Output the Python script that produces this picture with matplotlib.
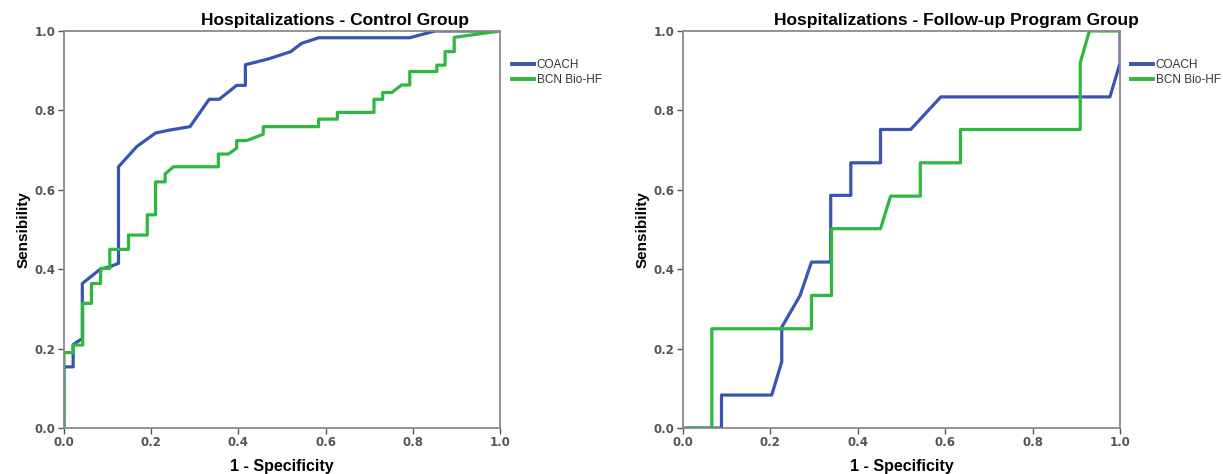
import matplotlib
matplotlib.use('Agg')
import matplotlib.pyplot as plt
from matplotlib.ticker import MultipleLocator

# ---------------- data ----------------
# control group
coachCtrlX = [0.0, 0.0, 0.021, 0.021, 0.037, 0.042, 0.042, 0.083, 0.105, 0.125, 0.125,
              0.167, 0.210, 0.240, 0.289, 0.333, 0.356, 0.396, 0.416, 0.416, 0.470,
              0.520, 0.545, 0.584, 0.793, 0.851, 1.0]
coachCtrlY = [0.0, 0.154, 0.154, 0.210, 0.222, 0.222, 0.364, 0.400, 0.406, 0.415, 0.658,
              0.709, 0.743, 0.750, 0.759, 0.828, 0.828, 0.863, 0.863, 0.915, 0.930,
              0.948, 0.969, 0.983, 0.983, 1.0, 1.0]

bcnCtrlX = [0.0, 0.0, 0.021, 0.021, 0.043, 0.043, 0.063, 0.063, 0.084, 0.084, 0.105,
            0.105, 0.148, 0.148, 0.191, 0.191, 0.210, 0.210, 0.232, 0.232, 0.251,
            0.354, 0.354, 0.377, 0.396, 0.396, 0.419, 0.457, 0.457, 0.584, 0.584,
            0.627, 0.627, 0.711, 0.711, 0.731, 0.731, 0.752, 0.774, 0.793, 0.793,
            0.855, 0.855, 0.874, 0.874, 0.895, 0.895, 1.0]
bcnCtrlY = [0.0, 0.190, 0.190, 0.209, 0.209, 0.314, 0.314, 0.364, 0.364, 0.402, 0.402,
            0.450, 0.450, 0.486, 0.486, 0.537, 0.537, 0.620, 0.620, 0.640, 0.658,
            0.658, 0.690, 0.690, 0.705, 0.724, 0.724, 0.740, 0.759, 0.759, 0.778,
            0.778, 0.795, 0.795, 0.828, 0.828, 0.845, 0.845, 0.864, 0.864, 0.898,
            0.898, 0.914, 0.914, 0.948, 0.948, 0.984, 1.0]

# follow-up program group
coachFupX = [0.0, 0.088, 0.088, 0.203, 0.226, 0.226, 0.268, 0.294, 0.338, 0.338, 0.384,
             0.384, 0.452, 0.452, 0.521, 0.590, 0.977, 1.0, 1.0]
coachFupY = [0.0, 0.0, 0.083, 0.083, 0.167, 0.254, 0.334, 0.418, 0.418, 0.586, 0.586,
             0.668, 0.668, 0.752, 0.752, 0.834, 0.834, 0.919, 1.0]

bcnFupX = [0.0, 0.066, 0.066, 0.294, 0.294, 0.340, 0.340, 0.452, 0.475, 0.543, 0.543,
           0.635, 0.635, 0.909, 0.909, 0.930, 1.0]
bcnFupY = [0.0, 0.0, 0.250, 0.250, 0.334, 0.334, 0.502, 0.502, 0.584, 0.584, 0.668,
           0.668, 0.752, 0.752, 0.920, 1.0, 1.0]

seriesNames = ['COACH', 'BCN Bio-HF']
titles = ['Hospitalizations - Control Group', 'Hospitalizations - Follow-up Program Group']

blue = '#3a55b1'
green = '#2fb83e'

plt.rcParams['font.family'] = ['Liberation Sans', 'DejaVu Sans']

fig = plt.figure(figsize=(12.23, 4.74), dpi=100)

ax1 = fig.add_axes([64/1223., 46/474., 436/1223., 397/474.])
ax2 = fig.add_axes([683/1223., 46/474., 437/1223., 397/474.])

ax1.plot(coachCtrlX, coachCtrlY, color=blue, lw=2.3, label=seriesNames[0])
ax1.plot(bcnCtrlX, bcnCtrlY, color=green, lw=2.3, label=seriesNames[1])
ax2.plot(coachFupX, coachFupY, color=blue, lw=2.3, label=seriesNames[0])
ax2.plot(bcnFupX, bcnFupY, color=green, lw=2.3, label=seriesNames[1])

legPos = [(512/1223., 1 - 59/474.), (1131/1223., 1 - 59/474.)]
titlePos = [335/1223., 956/1223.]

for i, ax in enumerate([ax1, ax2]):
    ax.set_xlim(0, 1)
    ax.set_ylim(0, 1)
    ax.xaxis.set_major_locator(MultipleLocator(0.2))
    ax.yaxis.set_major_locator(MultipleLocator(0.2))
    ax.xaxis.set_major_formatter(plt.FormatStrFormatter('%.1f'))
    ax.yaxis.set_major_formatter(plt.FormatStrFormatter('%.1f'))
    for s in ax.spines.values():
        s.set_color('#8a8a8a')
        s.set_linewidth(1.3)
    ax.tick_params(direction='out', length=4, width=1, color='#555555',
                   labelsize=8.5, labelcolor='#555555', pad=2)
    for lab in ax.get_xticklabels() + ax.get_yticklabels():
        lab.set_fontfamily('DejaVu Sans')
        lab.set_fontweight('bold')
    ax.set_xlabel('1 - Specificity', fontsize=11.5, fontweight='bold', labelpad=7)
    ax.set_ylabel('Sensibility', fontsize=11, fontweight='bold', labelpad=3)
    fig.text(titlePos[i], 1 - 20/474., titles[i], fontsize=12.5, fontweight='bold',
             ha='center', va='center')
    leg = ax.legend(loc='upper left', bbox_to_anchor=legPos[i], bbox_transform=fig.transFigure,
                    frameon=False, fontsize=8.5, handlelength=1.9, handletextpad=0.2,
                    labelspacing=0.25, borderpad=0, borderaxespad=0)
    for t in leg.get_texts():
        t.set_color('#333333')
    for h in leg.get_lines():
        h.set_linewidth(2.8)

fig.savefig('out.png', dpi=100)
